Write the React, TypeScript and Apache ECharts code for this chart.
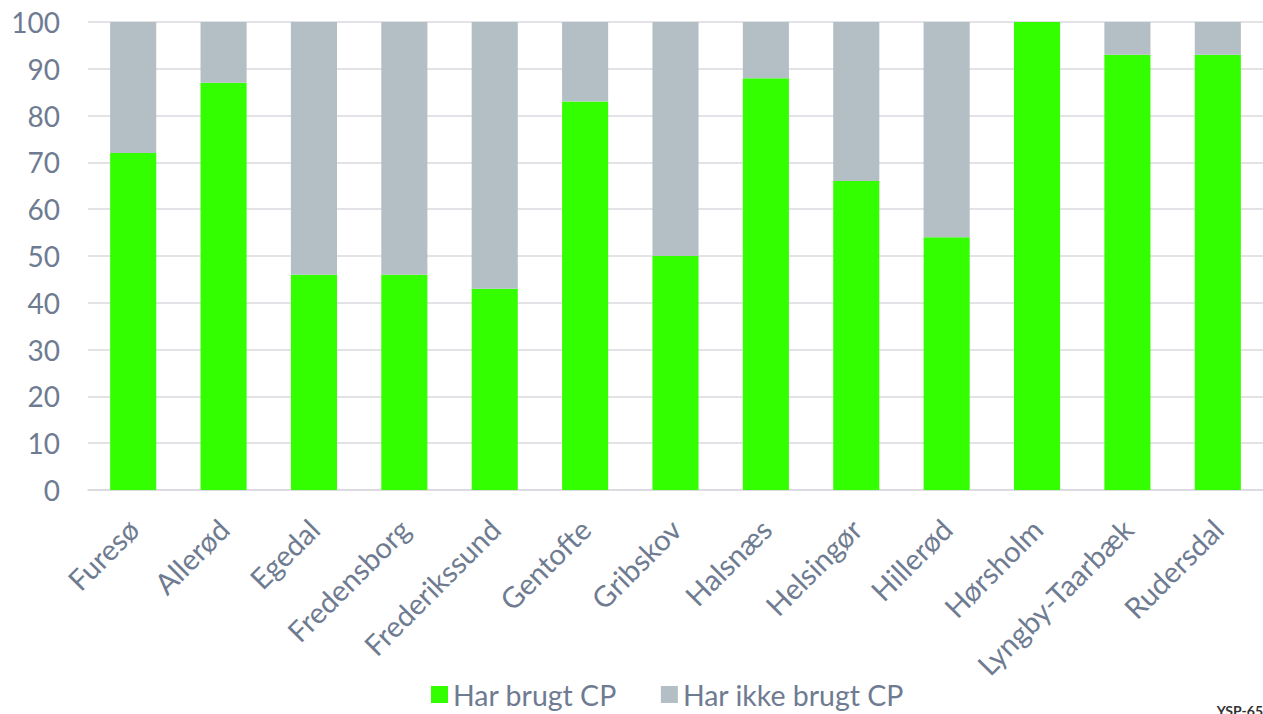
import React, { useEffect, useRef } from "react";
import * as echarts from "echarts";

const categories = [
  "Furesø", "Allerød", "Egedal", "Fredensborg", "Frederikssund", "Gentofte",
  "Gribskov", "Halsnæs", "Helsingør", "Hillerød", "Hørsholm", "Lyngby-Taarbæk", "Rudersdal",
];
const harBrugt = [72, 87, 46, 46, 43, 83, 50, 88, 66, 54, 100, 93, 93];
const harIkkeBrugt = [28, 13, 54, 54, 57, 17, 50, 12, 34, 46, 0, 7, 7];
const seriesNames = ["Har brugt CP", "Har ikke brugt CP"];

const FONT = "Lato";
const TXT = "#6E7B91";

export default function App() {
  const ref = useRef<HTMLDivElement>(null);
  useEffect(() => {
    const chart = echarts.init(ref.current!, null, { renderer: "svg" });
    chart.setOption({
      animation: false,
      textStyle: { fontFamily: FONT },
      grid: { left: 88, right: 0, top: 22, bottom: 224, containLabel: false },
      legend: {
        bottom: 0,
        left: 426,
        itemWidth: 17,
        itemHeight: 17,
        itemGap: 44,
        icon: "rect",
        textStyle: { fontSize: 28.5, color: TXT, fontFamily: FONT },
        data: seriesNames,
      },
      xAxis: {
        type: "category",
        data: categories,
        axisLine: { lineStyle: { color: "#D9D9DF", width: 1.5 } },
        axisTick: { show: false },
        axisLabel: { rotate: 45, fontSize: 29, color: TXT, margin: 34, interval: 0, fontFamily: FONT },
      },
      yAxis: {
        type: "value",
        min: 0,
        max: 100,
        interval: 10,
        axisLine: { show: false },
        axisTick: { show: false },
        splitLine: { lineStyle: { color: "#D9D9DF", width: 1.5 } },
        axisLabel: { fontSize: 28, color: TXT, margin: 28, fontFamily: FONT },
      },
      series: [
        {
          name: seriesNames[0],
          type: "bar",
          stack: "a",
          data: harBrugt,
          barWidth: "51%",
          itemStyle: { color: "#33FF00" },
        },
        {
          name: seriesNames[1],
          type: "bar",
          stack: "a",
          data: harIkkeBrugt,
          barWidth: "51%",
          itemStyle: { color: "#B4BFC5" },
        },
      ],
      graphic: [
        {
          type: "text",
          right: 0,
          top: 703,
          style: { text: "YSP-65", fontSize: 14, fill: "#333", fontFamily: FONT, fontWeight: "bold" },
        },
      ],
    });
    return () => chart.dispose();
  }, []);
  return (
    <div
      ref={ref}
      style={{ position: "absolute", left: 0, top: 0, width: 1263, height: 714, overflow: "hidden", background: "#fff" }}
    />
  );
}
